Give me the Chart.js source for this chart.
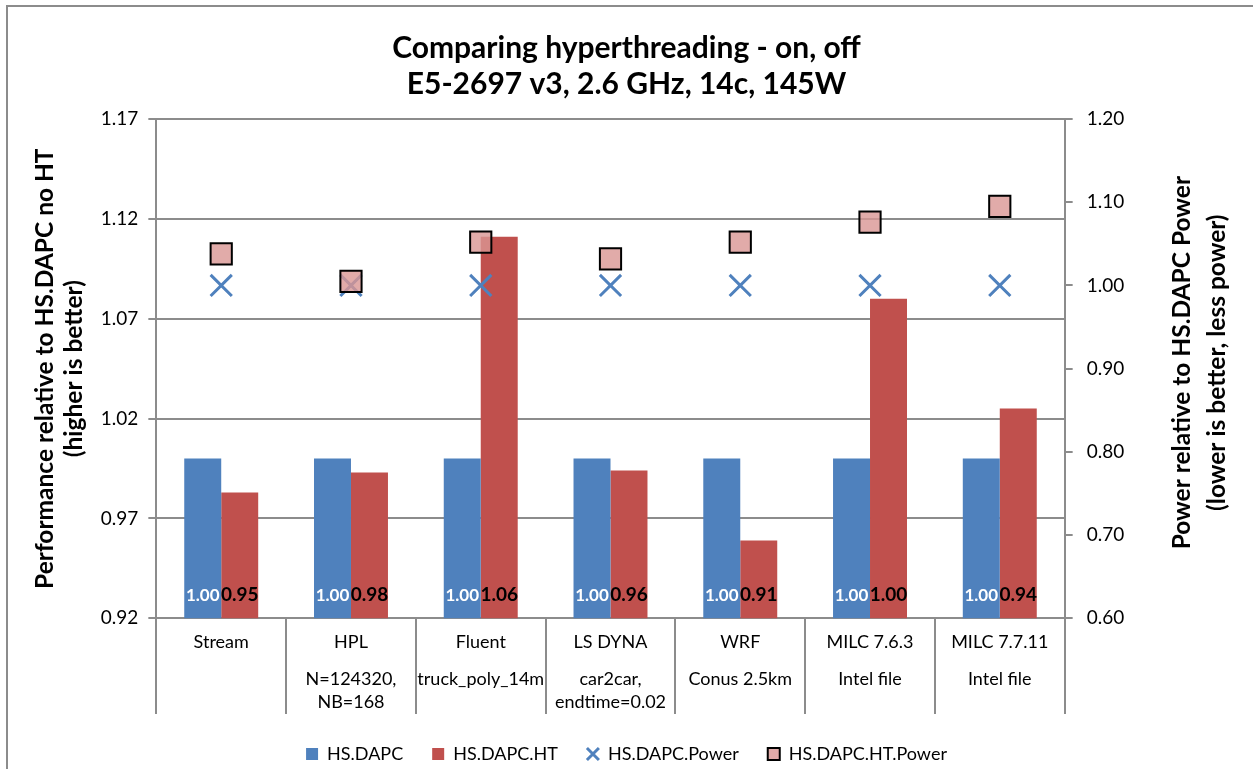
<!DOCTYPE html>
<html>
<head>
<meta charset="utf-8">
<script src="https://cdn.jsdelivr.net/npm/chart.js@4.4.1/dist/chart.umd.min.js"></script>
<style>
  html, body { margin: 0; padding: 0; background: #fff; overflow: hidden; }
  #marco { position: absolute; left: 6px; top: 5px; width: 1270px; height: 800px; border: 2px solid #8c8c8c; }
  #caja { position: absolute; left: 0; top: 0; width: 1253px; height: 769px; }
</style>
</head>
<body>
<div id="marco"></div>
<div id="caja"><canvas id="grafico"></canvas></div>
<script>
// Datos
const categorias = ['Stream', 'HPL', 'Fluent', 'LS DYNA', 'WRF', 'MILC 7.6.3', 'MILC 7.7.11'];
const subtitulos = ['', ['N=124320,', 'NB=168'], 'truck_poly_14m', ['car2car,', 'endtime=0.02'], 'Conus 2.5km', 'Intel file', 'Intel file'];
const valoresDapc = [1.00, 1.00, 1.00, 1.00, 1.00, 1.00, 1.00];
const valoresHt = [0.983, 0.993, 1.111, 0.994, 0.959, 1.080, 1.025];
const potenciaDapc = [1.00, 1.00, 1.00, 1.00, 1.00, 1.00, 1.00];
const potenciaHt = [1.038, 1.005, 1.052, 1.032, 1.052, 1.076, 1.095];
const etiquetasDapc = ['1.00', '1.00', '1.00', '1.00', '1.00', '1.00', '1.00'];
const etiquetasHt = ['0.95', '0.98', '1.06', '0.96', '0.91', '1.00', '0.94'];

const GRIS = '#8c8c8c';
const FUENTE = 'Lato, "Open Sans", sans-serif';
Chart.defaults.font.family = FUENTE;
Chart.defaults.color = '#000';

// Lineas verticales de la tabla de categorias
const lineasTabla = {
    id: 'lineasTabla',
    afterDraw(chart) {
        const x = chart.scales.x;
        const x2 = chart.scales.x2;
        const ctx = chart.ctx;
        const ancho = (x.right - x.left) / categorias.length;
        ctx.save();
        ctx.strokeStyle = GRIS;
        ctx.lineWidth = 2;
        for (let i = 0; i <= categorias.length; i++) {
            const px = Math.round(x.left + i * ancho);
            ctx.beginPath();
            ctx.moveTo(px, chart.chartArea.bottom);
            ctx.lineTo(px, x2.bottom - 2);
            ctx.stroke();
        }
        ctx.restore();
    }
};

// Etiquetas de datos al pie de cada barra
const etiquetasBarras = {
    id: 'etiquetasBarras',
    afterDatasetsDraw(chart) {
        const ctx = chart.ctx;
        const yPie = chart.chartArea.bottom - 23;
        ctx.save();
        ctx.textAlign = 'center';
        ctx.textBaseline = 'middle';
        [[0, etiquetasDapc, '#fff', 'bold 17px '], [1, etiquetasHt, '#000', 'bold 19px ']].forEach(([idx, textos, color, fuente]) => {
            const meta = chart.getDatasetMeta(idx);
            meta.data.forEach((barra, i) => {
                ctx.fillStyle = color;
                ctx.font = fuente + FUENTE;
                ctx.fillText(textos[i], barra.x, yPie);
            });
        });
        ctx.restore();
    }
};

// Titulo del eje derecho, girado como el izquierdo (el eje y1 solo reserva el hueco)
const tituloDerecho = {
    id: 'tituloDerecho',
    afterDraw(chart) {
        const ctx = chart.ctx;
        const area = chart.chartArea;
        const cy = (area.top + area.bottom) / 2 - 6;
        const lineas = ['Power relative to HS.DAPC Power', '(lower is better, less power)'];
        ctx.save();
        ctx.fillStyle = '#000';
        ctx.font = 'bold 24.5px ' + FUENTE;
        ctx.textAlign = 'center';
        ctx.textBaseline = 'middle';
        lineas.forEach((t, i) => {
            ctx.save();
            ctx.translate(chart.width - 71 + i * 35, cy);
            ctx.rotate(-Math.PI / 2);
            ctx.fillText(t, 0, 0);
            ctx.restore();
        });
        ctx.restore();
    }
};

function inicializarGrafico() {
    const ctx = document.getElementById('grafico').getContext('2d');
    new Chart(ctx, {
        type: 'bar',
        data: {
            labels: categorias,
            datasets: [
                {
                    label: 'HS.DAPC',
                    data: valoresDapc,
                    backgroundColor: '#4F81BD',
                    yAxisID: 'y',
                    order: 2,
                    pointStyle: 'rect'
                },
                {
                    label: 'HS.DAPC.HT',
                    data: valoresHt,
                    backgroundColor: '#C0504D',
                    yAxisID: 'y',
                    order: 2,
                    pointStyle: 'rect'
                },
                {
                    type: 'line',
                    label: 'HS.DAPC.Power',
                    data: potenciaDapc,
                    yAxisID: 'y1',
                    showLine: false,
                    pointStyle: 'crossRot',
                    pointRadius: 15,
                    pointBorderWidth: 3,
                    borderColor: '#4F81BD',
                    backgroundColor: '#4F81BD',
                    order: 1
                },
                {
                    type: 'line',
                    label: 'HS.DAPC.HT.Power',
                    data: potenciaHt,
                    yAxisID: 'y1',
                    showLine: false,
                    pointStyle: 'rect',
                    pointRadius: 15,
                    pointBorderWidth: 2,
                    borderColor: '#000',
                    backgroundColor: 'rgba(217,150,148,0.8)',
                    order: 0
                }
            ]
        },
        options: {
            responsive: true,
            maintainAspectRatio: false,
            animation: false,
            datasets: {
                bar: { categoryPercentage: 0.57, barPercentage: 1.0 }
            },
            layout: { padding: { left: 30, right: 30, top: 0, bottom: -4 } },
            plugins: {
                title: {
                    display: true,
                    text: ['Comparing hyperthreading - on, off', 'E5-2697 v3, 2.6 GHz, 14c, 145W'],
                    font: { size: 30, weight: 'bold' },
                    lineHeight: 1.2,
                    padding: { top: 30, bottom: 17 },
                    color: '#000'
                },
                legend: {
                    position: 'bottom',
                    labels: {
                        usePointStyle: true,
                        boxWidth: 12,
                        boxHeight: 12,
                        padding: 29,
                        font: { size: 18 },
                        sort: (a, b) => a.datasetIndex - b.datasetIndex
                    }
                },
                tooltip: { enabled: false }
            },
            scales: {
                x: {
                    grid: { display: false, drawTicks: false },
                    border: { display: true, color: GRIS, width: 2 },
                    ticks: { font: { size: 18 }, padding: 13, maxRotation: 0, autoSkip: false }
                },
                x2: {
                    type: 'category',
                    labels: subtitulos,
                    position: 'bottom',
                    offset: true,
                    grid: { display: false, drawTicks: false },
                    border: { display: false },
                    ticks: { font: { size: 18, lineHeight: 1.28 }, padding: 2, maxRotation: 0, autoSkip: false }
                },
                y: {
                    position: 'left',
                    min: 0.92,
                    max: 1.17,
                    ticks: {
                        stepSize: 0.05,
                        font: { size: 19 },
                        padding: 10,
                        callback: v => v.toFixed(2)
                    },
                    grid: { color: GRIS, lineWidth: 2, tickLength: 8 },
                    border: { color: GRIS, width: 2 },
                    title: {
                        display: true,
                        text: ['Performance relative to HS.DAPC no HT', '(higher is better)'],
                        font: { size: 24.5, weight: 'bold' },
                        lineHeight: 1.43,
                        padding: { top: 0, bottom: 2 }
                    }
                },
                y1: {
                    position: 'right',
                    min: 0.6,
                    max: 1.2,
                    ticks: {
                        stepSize: 0.1,
                        font: { size: 19 },
                        padding: 14,
                        callback: v => v.toFixed(2)
                    },
                    grid: { drawOnChartArea: false, color: GRIS, lineWidth: 2, tickLength: 8 },
                    border: { color: GRIS, width: 2 },
                    title: {
                        display: true,
                        text: ['', ''],
                        font: { size: 24.5, weight: 'bold' },
                        lineHeight: 1.43,
                        padding: { top: 26, bottom: 0 }
                    }
                }
            }
        },
        plugins: [lineasTabla, etiquetasBarras, tituloDerecho]
    });
}

document.addEventListener('DOMContentLoaded', inicializarGrafico);
</script>
</body>
</html>
